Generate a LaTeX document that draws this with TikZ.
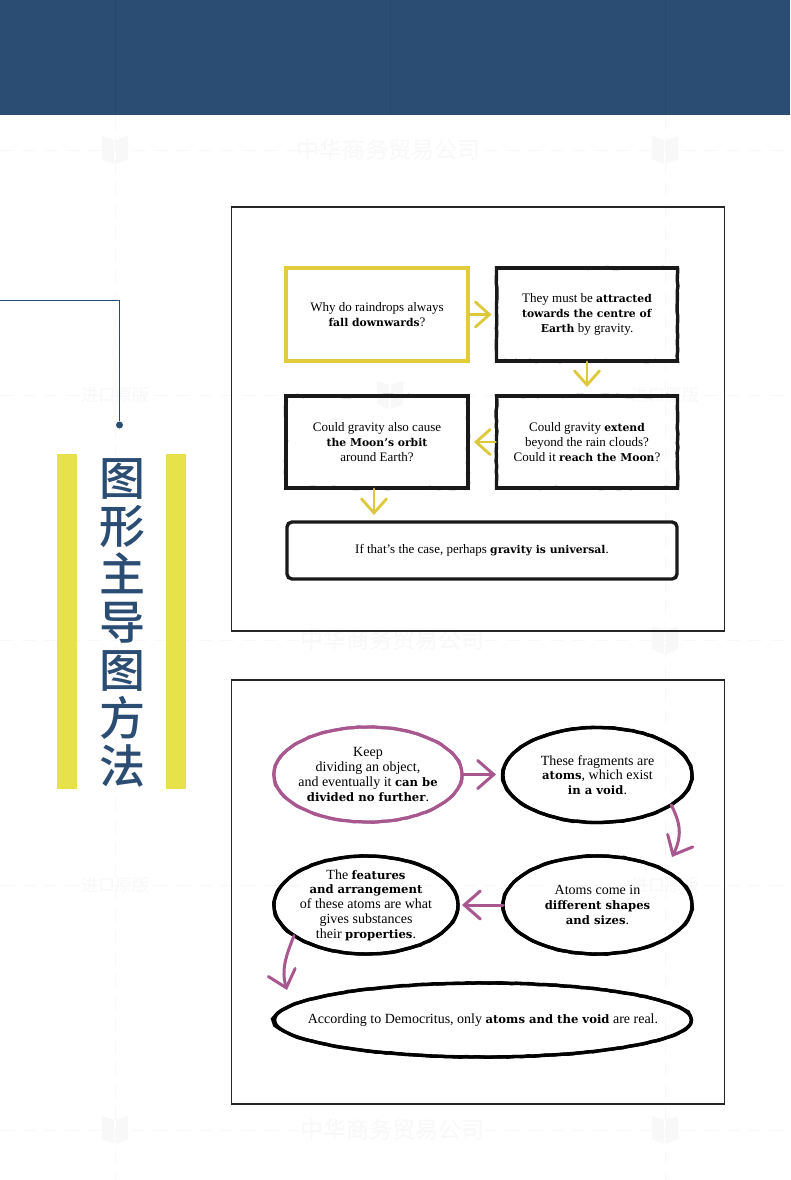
\documentclass[tikz,border=0pt]{standalone}
\usepackage{fontspec}
\setmainfont{Liberation Serif}[BoldFont={DejaVu Serif Bold},BoldFeatures={Scale=0.83}]
\newfontfamily\cjk{Noto Sans CJK SC}[BoldFont={Noto Sans CJK SC Medium}]
\usetikzlibrary{shapes.geometric,arrows.meta,decorations.pathmorphing}
\definecolor{navy}{HTML}{2C4D73}
\definecolor{navyd}{HTML}{284869}
\definecolor{barY}{HTML}{E8E24A}
\definecolor{boxY}{HTML}{E3CC3C}
\definecolor{arrY}{HTML}{DCC83A}
\definecolor{purp}{HTML}{A9588F}
\definecolor{wmgray}{HTML}{F8F8F8}
\newcommand{\wm}[3]{\node[wmtext,font=\cjk\fontsize{#3}{#3}\selectfont] at (#1) {#2};}
\newcommand{\wmbook}[1]{\fill[wmgray,shift={(#1)}] (-13,-14) -- (-1,-10) -- (-1,14) -- (-13,9) -- cycle (13,-14) -- (1,-10) -- (1,14) -- (13,9) -- cycle;}
\tikzset{
  x=1pt,y=-1pt,
  wmtext/.style={text=wmgray,inner sep=0,outer sep=0},
  wmline/.style={draw=wmgray,line width=0.8pt,dash pattern=on 14pt off 8pt},
  txt/.style={align=center,font=\fontsize{13}{15}\selectfont,inner sep=0,outer sep=0},
  frame/.style={draw=black!85,line width=1.5pt,inner sep=0,outer sep=0,minimum width=493pt},
  rough/.style={postaction={draw,decorate,decoration={random steps,segment length=5pt,amplitude=0.45pt,pre length=4pt,post length=4pt}}},
  plainbox/.style={txt,rectangle,draw=black!90,line width=3.4pt},
  rbox/.style={plainbox,rough},
  ybox/.style={txt,rectangle,draw=boxY,line width=3.6pt,minimum width=182pt,minimum height=93pt},
  oval/.style={txt,font=\fontsize{14}{14.8}\selectfont,ellipse,draw=black,line width=3.3pt,inner sep=-12pt,rough},
  poval/.style={oval,draw=purp,line width=3pt},
  yarr/.style={draw=arrY,line width=2.8pt,line cap=round,-{Straight Barb[length=14pt,width=25pt,line cap=round]}},
  parr/.style={draw=purp,line width=3pt,line cap=round,-{Straight Barb[length=16pt,width=28pt,line cap=round]}},
  hline/.style={draw=navy,line width=0.9pt},
}
\begin{document}
\begin{tikzpicture}
\useasboundingbox (0,0) rectangle (790,1180);
\fill[white] (0,0) rectangle (790,1180);
% faint watermark
\foreach \yy in {150,395,640,885,1130} \draw[wmline] (0,\yy) -- (790,\yy);
\foreach \xx in {115,665} \draw[wmline] (\xx,116) -- (\xx,1180);
\foreach \pp in {{115,150},{665,150},{390,395},{665,640},{390,885},{115,1130},{665,1130}} {\wmbook{\pp}}
\foreach \pp in {{388,150},{392,640},{392,1130}} {\wm{\pp}{中华商务贸易公司}{23}}
\foreach \pp in {{115,395},{665,395},{115,885},{665,885}} {\wm{\pp}{进口原版}{17}}
% banner
\fill[navy] (0,0) rectangle (790,115.5);
\foreach \xx in {115,390,665} \draw[navyd,line width=0.8pt] (\xx,0) -- (\xx,115.5);
% side title
\coordinate (lineStart) at (0,300);
\coordinate (lineBend) at (119.5,300);
\node[circle,fill=navy,inner sep=0,minimum size=7pt] (dot) at (119.5,425) {};
\draw[hline] (lineStart) -- (lineBend) -- (dot);
\node[fill=barY,inner sep=0,minimum width=20pt,minimum height=335pt] (barL) at (67,621.5) {};
\node[fill=barY,inner sep=0,minimum width=20pt,minimum height=335pt] (barR) at (175.5,621.5) {};
\node[text=navy,align=center,inner sep=0,font=\cjk\bfseries\fontsize{46}{48}\selectfont] (title) at (122,623) {图\\形\\主\\导\\图\\方\\法};
% top panel
\node[frame,minimum height=424pt] (panelA) at (478,419) {};
\node[ybox] (q1) at (377,314.5) {Why do raindrops always\\\textbf{fall downwards}?};
\node[rbox,minimum width=181pt,minimum height=93pt] (q2) at (587,314.5) {They must be \textbf{attracted}\\\textbf{towards the centre of}\\\textbf{Earth} by gravity.};
\node[rbox,minimum width=181pt,minimum height=92pt] (q3) at (587,442) {Could gravity \textbf{extend}\\beyond the rain clouds?\\Could it \textbf{reach the Moon}?};
\node[rbox,minimum width=182pt,minimum height=92pt] (q4) at (377,442) {Could gravity also cause\\\textbf{the Moon's orbit}\\around Earth?};
\node[plainbox,rounded corners=5pt,minimum width=390pt,minimum height=57pt] (q5) at (482,550.5) {If that's the case, perhaps \textbf{gravity is universal}.};
\draw[yarr,shorten <=1pt,shorten >=5pt] (q1.east) -- (q1.east -| q2.west);
\draw[yarr,shorten <=1pt,shorten >=9pt] (q2.south) -- (q3.north);
\draw[yarr,shorten <=1pt,shorten >=6pt] (q3.west) -- (q4.east);
\draw[yarr,shorten <=1pt,shorten >=7pt] ([xshift=-3pt]q4.south) -- ([xshift=-3pt]q4.south |- q5.north);
% bottom panel
\node[frame,minimum height=424pt] (panelB) at (478,892) {};
\node[poval,minimum width=188pt,minimum height=95pt] (d1) at (368,774.5) {Keep\\dividing an object,\\and eventually it \textbf{can be}\\\textbf{divided no further}.};
\node[oval,minimum width=189pt,minimum height=95pt] (d2) at (597.5,775) {These fragments are\\\textbf{atoms}, which exist\\\textbf{in a void}.};
\node[oval,minimum width=189pt,minimum height=98pt] (d3) at (597.5,905) {Atoms come in\\\textbf{different shapes}\\\textbf{and sizes}.};
\node[oval,minimum width=184pt,minimum height=98pt] (d4) at (366,905) {The \textbf{features}\\\textbf{and arrangement}\\of these atoms are what\\gives substances\\their \textbf{properties}.};
\node[oval,inner xsep=-40pt,minimum width=417pt,minimum height=74pt] (d5) at (483,1020) {According to Democritus, only \textbf{atoms and the void} are real.};
\coordinate (tipB) at (672,857);
\coordinate (tipD) at (287,990);
\draw[parr,shorten >=1pt] (d1.east) -- ([xshift=-6pt]d1.east -| d2.west);
\draw[parr] (d2.-22) .. controls +(7,14) and +(12,-24) .. (tipB);
\draw[parr,shorten >=1pt] (d3.west) -- ([xshift=3pt]d3.west -| d4.east);
\draw[parr] (d4.-157) .. controls +(-8,20) and +(-6,-20) .. (tipD);
\end{tikzpicture}
\end{document}
